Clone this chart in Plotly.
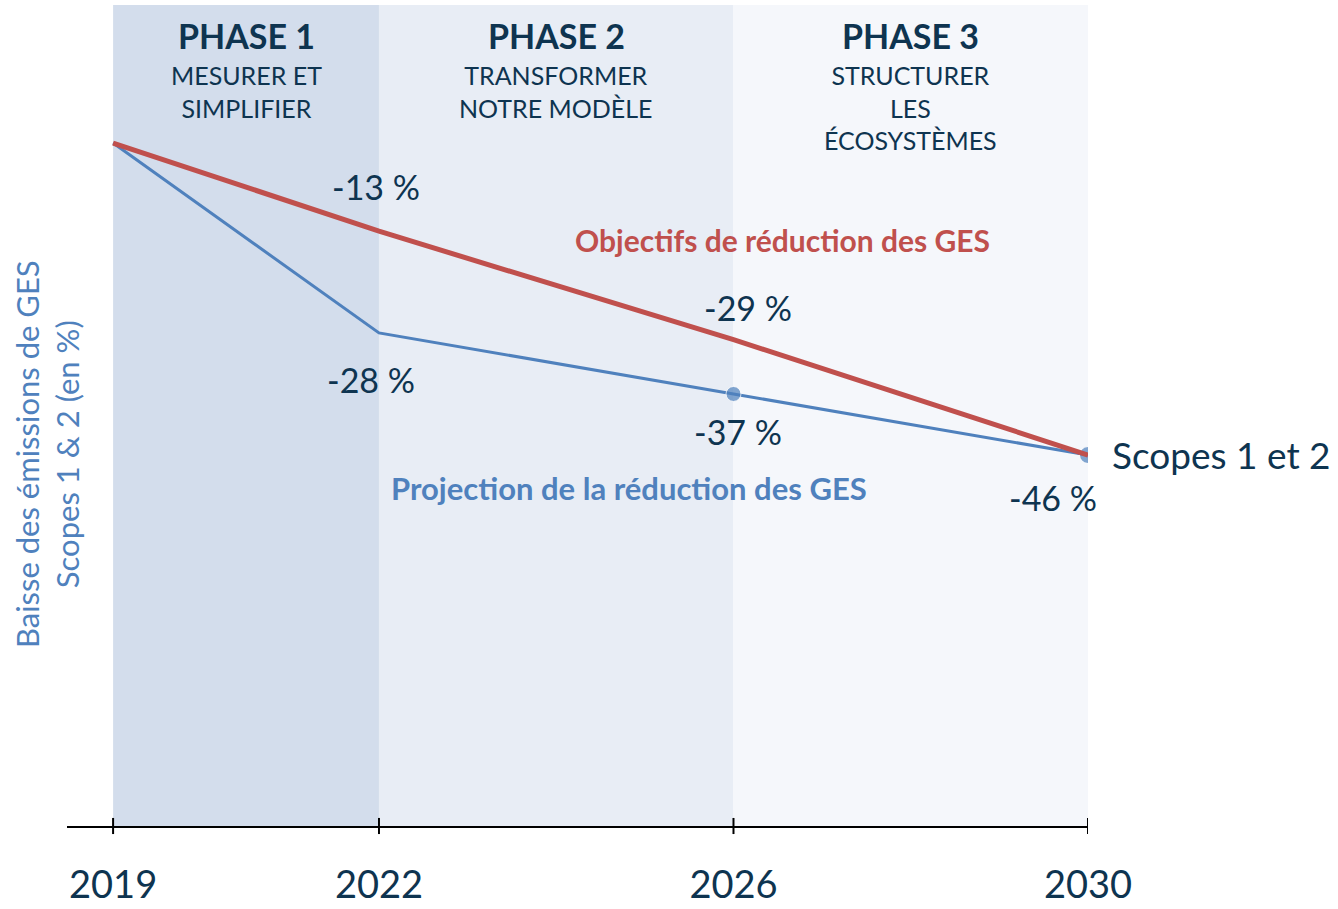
import plotly.graph_objects as go

# ---- data ----
years = [2019, 2022, 2026, 2030]
year_labels = ["2019", "2022", "2026", "2030"]
objectifs = [0, -13, -29, -46]          # red target line
projection = [0, -28, -37, -46]         # blue projection line
phase_bounds = [2019, 2022, 2026, 2030]
phase_titles = ["PHASE 1", "PHASE 2", "PHASE 3"]
phase_subtitles = ["MESURER ET<br>SIMPLIFIER", "TRANSFORMER<br>NOTRE MODÈLE", "STRUCTURER<br>LES<br>ÉCOSYSTÈMES"]
phase_colors = ["#d3ddec", "#e8edf5", "#f5f7fb"]

RED = "#c0504d"
BLUE = "#4f81bd"
NAVY = "#0e3450"
FONT = "Lato"

fig = go.Figure()

# phase background rectangles
for i in range(3):
    fig.add_shape(type="rect", xref="x", yref="paper",
                  x0=phase_bounds[i], x1=phase_bounds[i + 1], y0=0, y1=1,
                  fillcolor=phase_colors[i], line_width=0, layer="below")
    mid = (phase_bounds[i] + phase_bounds[i + 1]) / 2
    fig.add_annotation(x=mid, xref="x", y=0.963, yref="paper", xanchor="center", yanchor="middle",
                       text="<b>" + phase_titles[i] + "</b>",
                       showarrow=False, font=dict(family=FONT, size=34, color=NAVY))
    fig.add_annotation(x=mid, xref="x", y=0.935, yref="paper", xanchor="center", yanchor="top",
                       text=phase_subtitles[i],
                       showarrow=False, font=dict(family=FONT, size=25, color=NAVY))

# tick marks crossing the axis
for yv in years:
    fig.add_shape(type="line", xref="x", yref="paper", x0=yv, x1=yv, y0=-0.0098, y1=0.0098,
                  line=dict(color="black", width=2))

# projection line (blue)
fig.add_trace(go.Scatter(x=years, y=projection, mode="lines+markers",
                         line=dict(color=BLUE, width=3),
                         marker=dict(size=[0, 0, 15, 17], color=BLUE),
                         hoverinfo="skip", showlegend=False))
# objectives line (red)
fig.add_trace(go.Scatter(x=years, y=objectifs, mode="lines",
                         line=dict(color=RED, width=5),
                         hoverinfo="skip", showlegend=False))

# value labels
pct_font = dict(family=FONT, size=34, color=NAVY)
fig.add_annotation(x=years[1], y=objectifs[1], text=f"{objectifs[1]} %", showarrow=False,
                   xshift=-3, yshift=45, font=pct_font)
fig.add_annotation(x=years[1], y=projection[1], text=f"{projection[1]} %", showarrow=False,
                   xshift=-8, yshift=-47, font=pct_font)
fig.add_annotation(x=years[2], y=objectifs[2], text=f"{objectifs[2]} %", showarrow=False,
                   xshift=15, yshift=32, font=pct_font)
fig.add_annotation(x=years[2], y=projection[2], text=f"{projection[2]} %", showarrow=False,
                   xshift=5, yshift=-38, font=pct_font)
fig.add_annotation(x=years[3], y=projection[3], text=f"{projection[3]} %", showarrow=False,
                   xshift=-35, yshift=-42, font=pct_font)
fig.add_annotation(x=years[3], y=projection[3], text="Scopes 1 et 2", showarrow=False,
                   xanchor="left", xshift=22, yshift=1,
                   font=dict(family=FONT, size=37, color=NAVY))

# series labels
fig.add_annotation(x=0.701, y=0.714, xref="paper", yref="paper", xanchor="center", yanchor="middle",
                   text="<b>Objectifs de réduction des GES</b>", showarrow=False,
                   font=dict(family=FONT, size=30, color=RED))
fig.add_annotation(x=0.550, y=0.412, xref="paper", yref="paper", xanchor="center", yanchor="middle",
                   text="<b>Projection de la réduction des GES</b>", showarrow=False,
                   font=dict(family=FONT, size=31, color=BLUE))

# y-axis title
fig.add_annotation(x=-0.0196, y=0.453, xref="paper", yref="paper", xanchor="center", yanchor="middle",
                   textangle=-90,
                   text="Baisse des émissions de GES<br>Scopes 1 & 2 (en %)", showarrow=False,
                   font=dict(family=FONT, size=31, color=BLUE))

fig.update_layout(
    width=1338, height=909,
    margin=dict(l=67, r=250, t=5, b=83, autoexpand=False),
    plot_bgcolor="white", paper_bgcolor="white",
    xaxis=dict(range=[2018.48, 2030], tickvals=years, ticktext=year_labels,
               showgrid=False, zeroline=False, showline=True, linecolor="black", linewidth=2,
               ticks="", ticklabelstandoff=24, automargin=False,
               tickfont=dict(family=FONT, size=38, color=NAVY), fixedrange=True),
    yaxis=dict(range=[-100.7, 20.35], visible=False, showgrid=False, zeroline=False,
               automargin=False, fixedrange=True),
)

fig.write_html("out.html", config={"displayModeBar": False},
               post_script="document.body.style.margin='0px';document.body.style.overflow='hidden';")
